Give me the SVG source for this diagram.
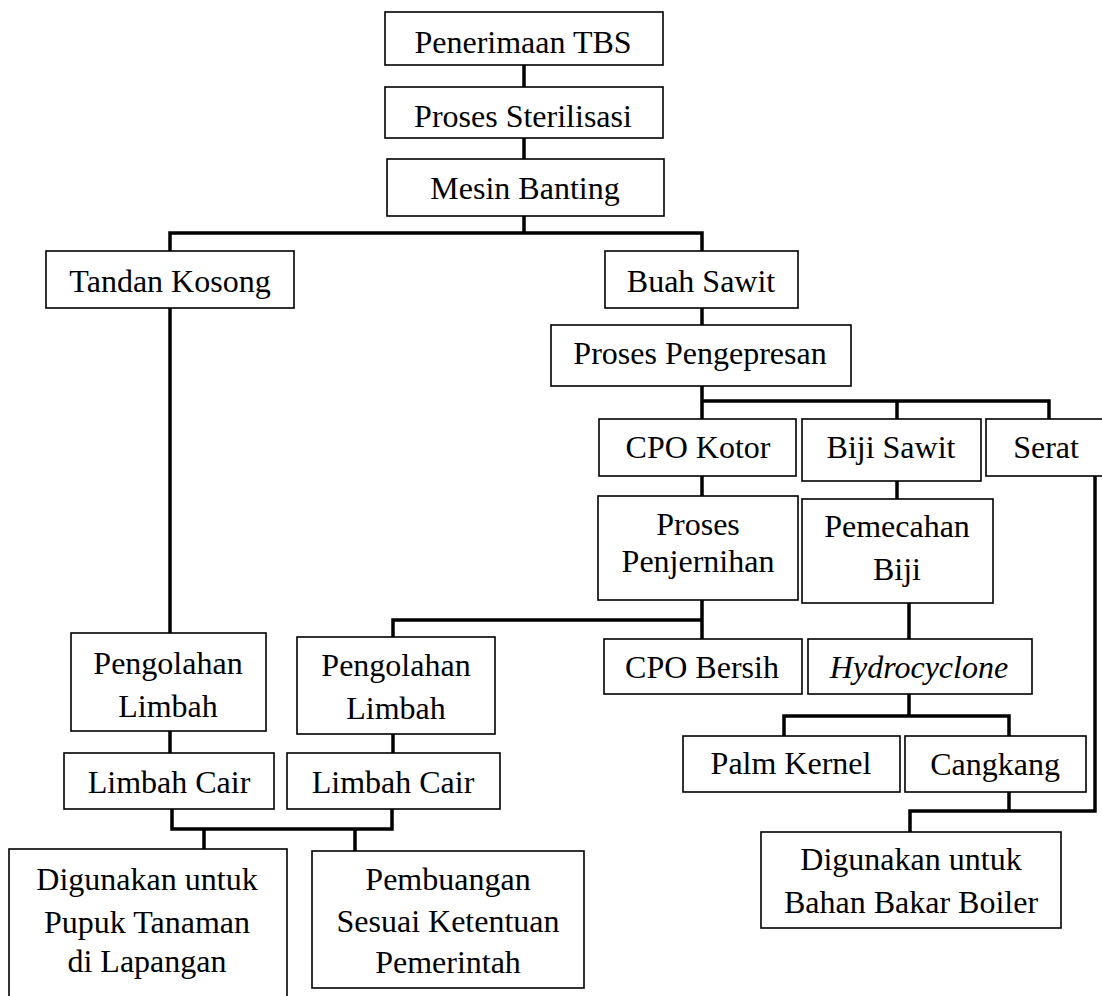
<svg xmlns="http://www.w3.org/2000/svg" width="1102" height="996" viewBox="0 0 1102 996">
<style>
  .box { fill: #ffffff; stroke: #000000; stroke-width: 1.6; }
  .t { font-family: "Liberation Serif", "Times New Roman", serif; font-size: 32px; fill: #000000; text-anchor: middle; }
  .i { font-style: italic; }
  .c { fill: none; stroke: #000000; stroke-width: 3.5; stroke-linejoin: miter; stroke-linecap: square; }
</style>
<rect x="0" y="0" width="1102" height="996" fill="#ffffff"/>
<g id="connectors">
  <path class="c" d="M524 65 V87"/>
  <path class="c" d="M524 138 V159"/>
  <path class="c" d="M524 216 V233 M170 251 V233 H702 V251"/>
  <path class="c" d="M170 308 V633"/>
  <path class="c" d="M702 308 V325"/>
  <path class="c" d="M702 386 V419 M702 401 H1049 V419 M897 401 V419"/>
  <path class="c" d="M702 476 V496"/>
  <path class="c" d="M897 481 V499"/>
  <path class="c" d="M702 600 V639 M702 620 H393 V637"/>
  <path class="c" d="M909 603 V639"/>
  <path class="c" d="M909 694 V716 M784 736 V716 H1009 V736"/>
  <path class="c" d="M1095 476 V811 H910 V832 M1009 792 V811"/>
  <path class="c" d="M170 731 V753"/>
  <path class="c" d="M393 734 V753"/>
  <path class="c" d="M172 809 V829 H392 V809 M204 829 V849 M355 829 V851"/>
</g>
<g id="n-penerimaan"><rect class="box" x="385" y="12" width="278" height="53"/><text class="t" x="523" y="53">Penerimaan TBS</text></g>
<g id="n-sterilisasi"><rect class="box" x="385" y="87" width="278" height="51"/><text class="t" x="523" y="127">Proses Sterilisasi</text></g>
<g id="n-mesin"><rect class="box" x="387" y="159" width="277" height="57"/><text class="t" x="525" y="199">Mesin Banting</text></g>
<g id="n-tandan"><rect class="box" x="46" y="251" width="248" height="57"/><text class="t" x="170" y="292">Tandan Kosong</text></g>
<g id="n-buah"><rect class="box" x="605" y="251" width="193" height="57"/><text class="t" x="701" y="292">Buah Sawit</text></g>
<g id="n-pengepresan"><rect class="box" x="551" y="325" width="300" height="61"/><text class="t" x="700" y="364">Proses Pengepresan</text></g>
<g id="n-cpokotor"><rect class="box" x="599" y="419" width="197" height="57"/><text class="t" x="698" y="458">CPO Kotor</text></g>
<g id="n-biji"><rect class="box" x="802" y="419" width="179" height="62"/><text class="t" x="891" y="458">Biji Sawit</text></g>
<g id="n-serat"><rect class="box" x="986" y="419" width="124" height="57"/><text class="t" x="1046" y="458">Serat</text></g>
<g id="n-penjernihan"><rect class="box" x="598" y="496" width="200" height="104"/><text class="t" x="698" y="535">Proses</text><text class="t" x="698" y="572">Penjernihan</text></g>
<g id="n-pemecahan"><rect class="box" x="802" y="499" width="191" height="104"/><text class="t" x="897" y="537">Pemecahan</text><text class="t" x="897" y="580">Biji</text></g>
<g id="n-cpobersih"><rect class="box" x="604" y="639" width="198" height="55"/><text class="t" x="702" y="678">CPO Bersih</text></g>
<g id="n-hydro"><rect class="box" x="808" y="639" width="224" height="55"/><text class="t i" x="919" y="678">Hydrocyclone</text></g>
<g id="n-palm"><rect class="box" x="683" y="736" width="217" height="56"/><text class="t" x="791" y="774">Palm Kernel</text></g>
<g id="n-cangkang"><rect class="box" x="905" y="736" width="181" height="56"/><text class="t" x="995" y="775">Cangkang</text></g>
<g id="n-boiler"><rect class="box" x="761" y="832" width="300" height="96"/><text class="t" x="911" y="870">Digunakan untuk</text><text class="t" x="911" y="913">Bahan Bakar Boiler</text></g>
<g id="n-pengolahan1"><rect class="box" x="71" y="633" width="195" height="98"/><text class="t" x="168" y="674">Pengolahan</text><text class="t" x="168" y="717">Limbah</text></g>
<g id="n-pengolahan2"><rect class="box" x="297" y="637" width="198" height="97"/><text class="t" x="396" y="676">Pengolahan</text><text class="t" x="396" y="719">Limbah</text></g>
<g id="n-limbah1"><rect class="box" x="64" y="753" width="210" height="56"/><text class="t" x="169" y="793">Limbah Cair</text></g>
<g id="n-limbah2"><rect class="box" x="287" y="753" width="213" height="56"/><text class="t" x="393" y="793">Limbah Cair</text></g>
<g id="n-pupuk"><rect class="box" x="9" y="849" width="278" height="160"/><text class="t" x="147" y="890">Digunakan untuk</text><text class="t" x="147" y="933">Pupuk Tanaman</text><text class="t" x="147" y="972">di Lapangan</text></g>
<g id="n-pembuangan"><rect class="box" x="312" y="851" width="272" height="137"/><text class="t" x="448" y="890">Pembuangan</text><text class="t" x="448" y="932">Sesuai Ketentuan</text><text class="t" x="448" y="973">Pemerintah</text></g>
</svg>
